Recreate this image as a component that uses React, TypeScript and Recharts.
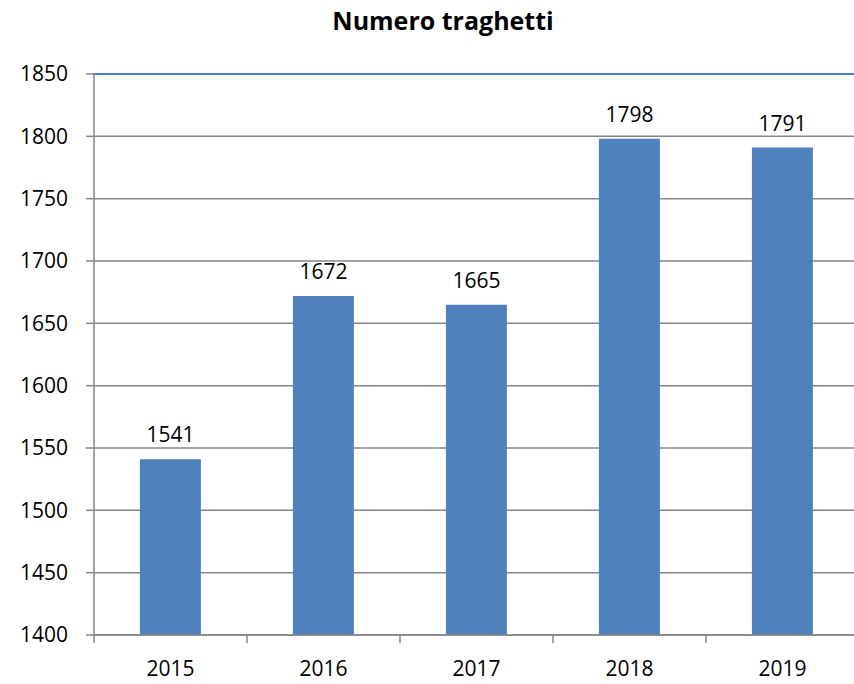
import { Bar, BarChart, CartesianGrid, LabelList, ReferenceLine, XAxis, YAxis } from "recharts";

const years = ["2015", "2016", "2017", "2018", "2019"];
const ferries = [1541, 1672, 1665, 1798, 1791];
const yTicks = [1400, 1450, 1500, 1550, 1600, 1650, 1700, 1750, 1800, 1850];

const data = years.map((year, i) => ({ year, value: ferries[i] }));

const CHART_W = 866;
const CHART_H = 684;
const MARGIN = { top: 74, right: 7, bottom: 0, left: 0 };
const YAXIS_W = 94;
const XAXIS_H = 49;
const PLOT_BOTTOM = CHART_H - MARGIN.bottom - XAXIS_H;
const BAND = (CHART_W - MARGIN.left - MARGIN.right - YAXIS_W) / years.length;

const FONT = "'Open Sans', Lato, sans-serif";
const AXIS_GREY = "#868686";
const BLUE = "#4F81BD";

function YearTick(props: any) {
  const { x, payload, index } = props;
  const left = x - BAND / 2;
  const right = x + BAND / 2;
  return (
    <g>
      <line x1={left} y1={PLOT_BOTTOM} x2={left} y2={PLOT_BOTTOM + 8} stroke={AXIS_GREY} strokeWidth={1.5} />
      {index === years.length - 1 && (
        <line x1={right} y1={PLOT_BOTTOM} x2={right} y2={PLOT_BOTTOM + 8} stroke={AXIS_GREY} strokeWidth={1.5} />
      )}
      <text x={x} y={PLOT_BOTTOM + 41} textAnchor="middle" fontSize={21} fontFamily={FONT} fill="#000">
        {payload.value}
      </text>
    </g>
  );
}

export default function App() {
  return (
    <div style={{ position: "fixed", left: 0, top: 0, width: 854, height: 684, overflow: "hidden", background: "#fff" }}>
      <div
        style={{
          position: "absolute",
          left: 0,
          width: 886,
          top: 3,
          textAlign: "center",
          fontFamily: FONT,
          fontWeight: 700,
          fontSize: 25,
          color: "#000",
        }}
      >
        Numero traghetti
      </div>
      <BarChart width={CHART_W} height={CHART_H} data={data} margin={MARGIN} barCategoryGap="30%">
        <CartesianGrid vertical={false} stroke={AXIS_GREY} strokeWidth={1.5} />
        <ReferenceLine y={1850} stroke={BLUE} strokeWidth={2} />
        <XAxis
          dataKey="year"
          height={XAXIS_H}
          axisLine={{ stroke: AXIS_GREY, strokeWidth: 1.5 }}
          tickLine={false}
          tick={YearTick}
          interval={0}
        />
        <YAxis
          width={YAXIS_W}
          domain={[1400, 1850]}
          ticks={yTicks}
          interval={0}
          allowDataOverflow
          axisLine={{ stroke: AXIS_GREY, strokeWidth: 1.5 }}
          tickLine={{ stroke: AXIS_GREY, strokeWidth: 1.5 }}
          tickSize={8}
          tickMargin={18}
          tick={{ fontSize: 21, fontFamily: FONT, fill: "#000" }}
        />
        <Bar dataKey="value" fill={BLUE} isAnimationActive={false}>
          <LabelList dataKey="value" position="top" offset={17} fontSize={21} fontFamily={FONT} fill="#000" />
        </Bar>
      </BarChart>
    </div>
  );
}
